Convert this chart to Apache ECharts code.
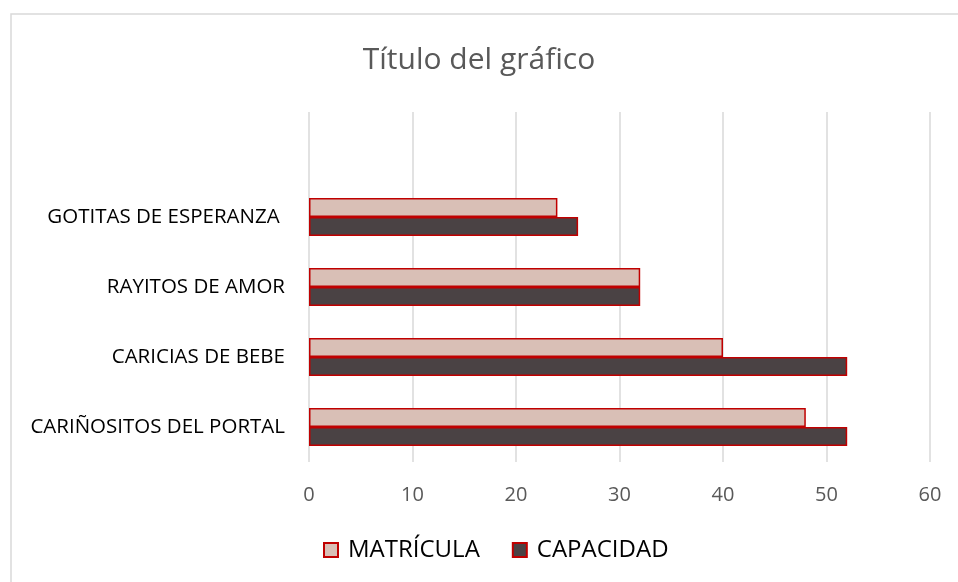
<!DOCTYPE html>
<html>
<head>
<meta charset="utf-8">
<script src="https://cdn.jsdelivr.net/npm/echarts@6/dist/echarts.min.js"></script>
<style>
  html, body { margin: 0; padding: 0; background: #fff; }
  #chart { width: 958px; height: 582px; }
</style>
</head>
<body>
<div id="chart"></div>
<script>
// categorías de abajo hacia arriba (la última fila vacía como en Excel)
const categories = ['CARIÑOSITOS DEL PORTAL', 'CARICIAS DE BEBE', 'RAYITOS DE AMOR', 'GOTITAS DE ESPERANZA ', ''];
const matricula = [48, 40, 32, 24, null];
const capacidad = [52, 52, 32, 26, null];
const xTicks = [0, 10, 20, 30, 40, 50, 60];

const font = '"Open Sans", sans-serif';
const chart = echarts.init(document.getElementById('chart'));

const option = {
  backgroundColor: '#ffffff',
  textStyle: { fontFamily: font },
  title: {
    text: 'Título del gráfico',
    left: 'center',
    top: 40,
    textStyle: { color: '#595959', fontSize: 30, fontWeight: 'normal', fontFamily: font }
  },
  graphic: [{
    type: 'rect',
    shape: { x: 11, y: 14, width: 1200, height: 1000 },
    style: { fill: 'none', stroke: '#d9d9d9', lineWidth: 1.5 },
    silent: true
  }],
  legend: {
    data: ['MATRÍCULA', 'CAPACIDAD'],
    top: 533,
    left: 318,
    icon: 'rect',
    itemWidth: 14,
    itemHeight: 14,
    itemGap: 32,
    textStyle: { color: '#000', fontSize: 24, fontFamily: font, padding: [0, 0, 0, 5] }
  },
  grid: { left: 309, right: 28, top: 112, bottom: 120, containLabel: false },
  xAxis: {
    type: 'value',
    min: xTicks[0],
    max: xTicks[xTicks.length - 1],
    interval: 10,
    axisLine: { show: false },
    axisTick: { show: false },
    axisLabel: { color: '#595959', fontSize: 20, margin: 23 },
    splitLine: { lineStyle: { color: '#d9d9d9', width: 1.5 } }
  },
  yAxis: {
    type: 'category',
    data: categories,
    axisLine: { show: false },
    axisTick: { show: false },
    axisLabel: { color: '#000', fontSize: 20.5, margin: 24 }
  },
  series: [
    {
      name: 'MATRÍCULA',
      type: 'bar',
      data: matricula,
      barWidth: 19,
      barGap: '0%',
      itemStyle: { color: '#d9bfb6', borderColor: '#c00000', borderWidth: 1.5 }
    },
    {
      name: 'CAPACIDAD',
      type: 'bar',
      data: capacidad,
      barWidth: 19,
      barGap: '0%',
      itemStyle: { color: '#4a4244', borderColor: '#c00000', borderWidth: 1.5 }
    }
  ]
};

chart.setOption(option);
</script>
</body>
</html>
